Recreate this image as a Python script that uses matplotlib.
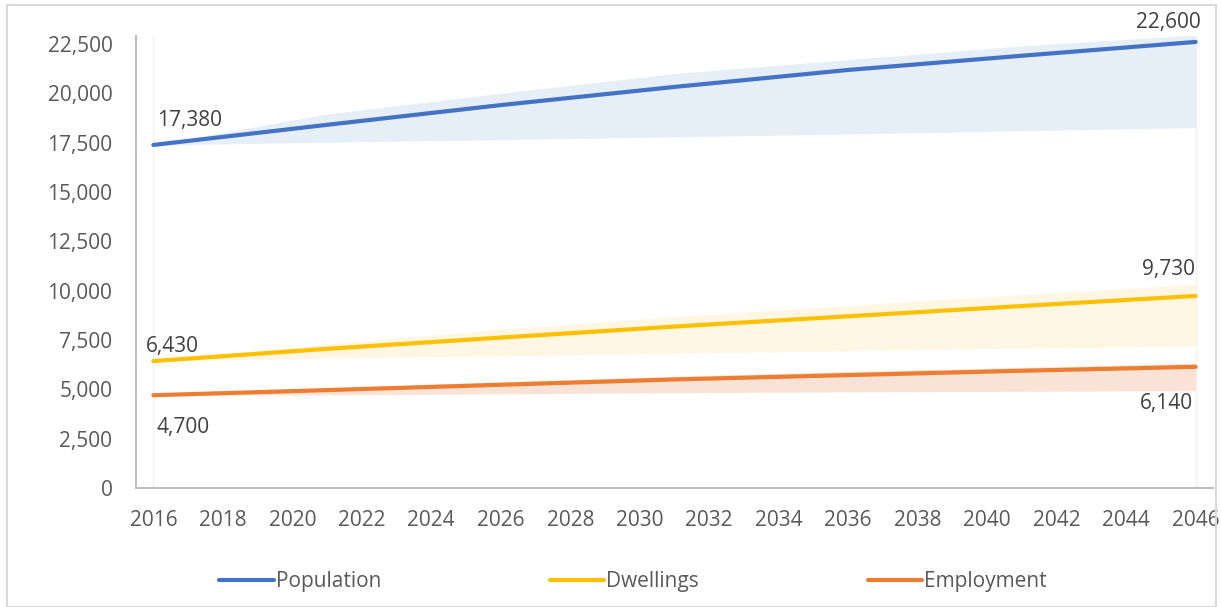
import matplotlib
matplotlib.use("Agg")
import matplotlib.pyplot as plt
from matplotlib.lines import Line2D
from matplotlib.patches import Rectangle
from matplotlib.ticker import FuncFormatter

plt.rcParams['font.family'] = ['Open Sans', 'DejaVu Sans']

# projections: central line plus low / high range
years = [2016, 2021, 2026, 2031, 2036, 2041, 2046]

pop = [17380, 18400, 19400, 20320, 21180, 21900, 22600]
pop_lo = [17380, 17520, 17650, 17790, 17940, 18100, 18260]
pop_hi = [17380, 18950, 20000, 21000, 21700, 22400, 22950]

dwl = [6430, 7050, 7620, 8180, 8700, 9220, 9730]
dwl_lo = [6430, 6580, 6700, 6830, 6950, 7080, 7200]
dwl_hi = [6430, 7300, 8050, 8680, 9250, 9800, 10330]

emp = [4700, 4960, 5230, 5500, 5720, 5940, 6140]
emp_lo = [4700, 4720, 4770, 4830, 4870, 4900, 4930]
emp_hi = [4700, 5050, 5380, 5660, 5900, 6110, 6320]

names = ['Population', 'Dwellings', 'Employment']
colors = ['#4472C4', '#FFC000', '#ED7D31']
fills = ['#E6EEF8', '#FFF6E3', '#FBE2D6']

fig = plt.figure(figsize=(12.21, 6.07), dpi=100)
fig.patches.append(Rectangle((7 / 1221, 0), 1209 / 1221, 602 / 607,
                             transform=fig.transFigure, fill=False,
                             edgecolor='#d9d9d9', linewidth=1.5))

ax = fig.add_axes([136 / 1221, 119 / 607, 1077 / 1221, 452 / 607])

for x in (years[0], years[-1]):
    ax.axvline(x, color='#f2f2f2', lw=1, zorder=0)

series = [(pop, pop_lo, pop_hi), (dwl, dwl_lo, dwl_hi), (emp, emp_lo, emp_hi)]
for (mid, lo, hi), c, fc in zip(series, colors, fills):
    ax.fill_between(years, lo, hi, color=fc, lw=0, zorder=1)
for (mid, lo, hi), c in zip(series, colors):
    ax.plot(years, mid, color=c, lw=3, solid_capstyle='round', zorder=3)

ax.set_xlim(2015.5, 2046.5)
ax.set_ylim(0, 22900)
ax.set_xticks(range(2016, 2047, 2))
ax.set_yticks(range(0, 22501, 2500))
ax.yaxis.set_major_formatter(FuncFormatter(lambda v, p: f'{int(v):,}'))
ax.tick_params(length=0, labelsize=15, colors='#595959')
ax.tick_params(axis='y', pad=17)
ax.tick_params(axis='x', pad=16)
for s in ('top', 'right'):
    ax.spines[s].set_visible(False)
for s in ('left', 'bottom'):
    ax.spines[s].set_color('#bfbfbf')
    ax.spines[s].set_linewidth(1.5)

# value labels at both ends
labels = [
    (years[0], pop[0], (4, 24), 'left'),
    (years[-1], pop[-1], (5, 19), 'right'),
    (years[0], dwl[0], (-7, 15), 'left'),
    (years[-1], dwl[-1], (-1, 26), 'right'),
    (years[0], emp[0], (3, -32), 'left'),
    (years[-1], emp[-1], (-3, -37), 'right'),
]
for x, y, off, ha in labels:
    ax.annotate(f'{y:,}', (x, y), xytext=off, textcoords='offset pixels',
                ha=ha, va='center', fontsize=15, color='#404040', zorder=4)

handles = [Line2D([], [], color=c, lw=3, solid_capstyle='round') for c in colors]
fig.legend(handles, names, loc='center', bbox_to_anchor=(633 / 1221, 25 / 607),
           ncol=3, frameon=False, fontsize=15, handlelength=2.6,
           handletextpad=0.1, columnspacing=8.1, labelcolor='#595959')

fig.savefig('out.png', dpi=100)
